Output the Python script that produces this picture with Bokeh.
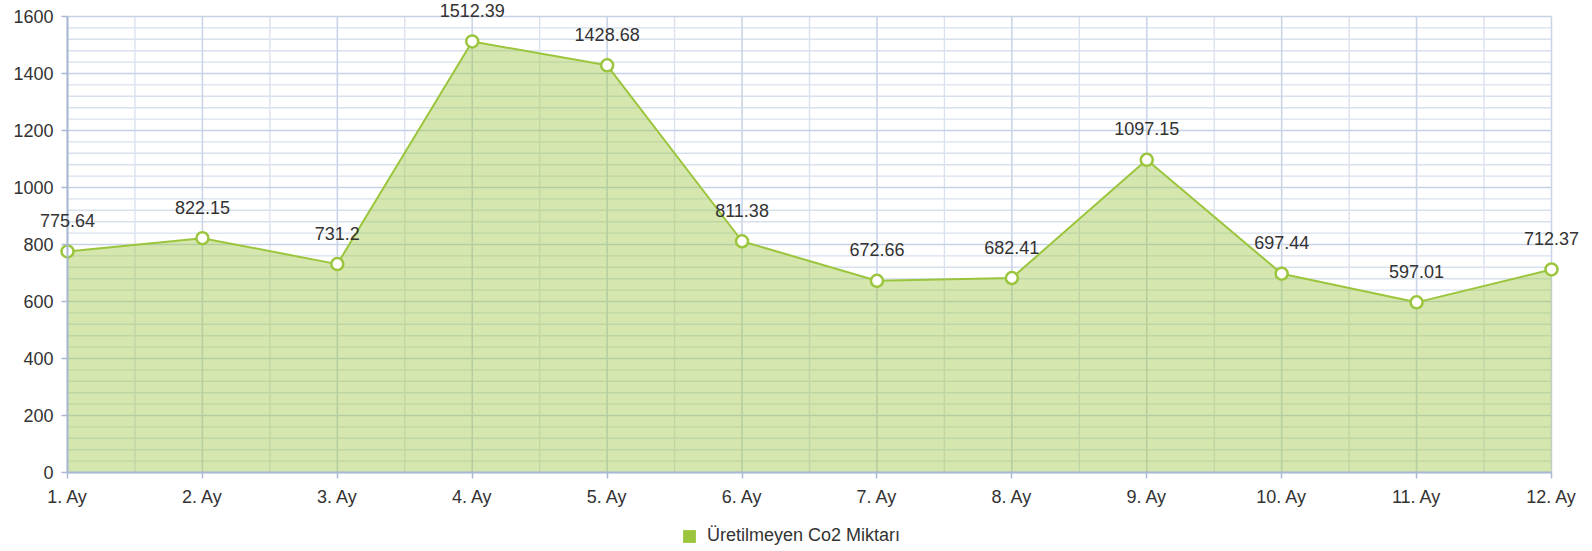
from bokeh.plotting import figure
from bokeh.models import ColumnDataSource, FixedTicker, LabelSet, Legend, LegendItem, Range1d
from bokeh.core.properties import value
from bokeh.embed import file_html
from bokeh.resources import INLINE

months = ["1. Ay", "2. Ay", "3. Ay", "4. Ay", "5. Ay", "6. Ay",
          "7. Ay", "8. Ay", "9. Ay", "10. Ay", "11. Ay", "12. Ay"]
values = [775.64, 822.15, 731.2, 1512.39, 1428.68, 811.38,
          672.66, 682.41, 1097.15, 697.44, 597.01, 712.37]
value_labels = ["775.64", "822.15", "731.2", "1512.39", "1428.68", "811.38",
                "672.66", "682.41", "1097.15", "697.44", "597.01", "712.37"]
series_name = "Üretilmeyen Co2 Miktarı"
y_ticks = [0, 200, 400, 600, 800, 1000, 1200, 1400, 1600]
Y_MAX = 1600
Y_MINOR_STEP = 40

FONT = "Liberation Sans"
TXT = "#333333"
GREEN = "#9bc53d"

# geometry (figure pixels); the frame fills the whole canvas, the axes are
# placed at fixed data locations so that no text is clipped by the frame
W, H = 1592, 551
AREA_L, AREA_R, AREA_T, AREA_B = 67, 1551, 16, 472   # visible plot area
n = len(months)
xu = (AREA_R - AREA_L) / (n - 1)
yu = (AREA_B - AREA_T) / Y_MAX
x_start = -AREA_L / xu
x_end = (n - 1) + (W - AREA_R) / xu
y_end = Y_MAX + AREA_T / yu
y_start = -(H - AREA_B) / yu

xs = list(range(n))
x_minor = [i + 0.5 for i in xs[:-1]]
y_minor = [v for v in range(0, Y_MAX + 1, Y_MINOR_STEP) if v not in y_ticks]

# label offset: ~31px above point, but keep text inside the canvas
offs = [min(31.0, (y_end - v) * yu - 10) for v in values]
src = ColumnDataSource(dict(x=xs, y=values, lab=value_labels, off=offs))

p = figure(width=W, height=H, output_backend="svg", toolbar_location=None,
           x_range=Range1d(x_start, x_end), y_range=Range1d(y_start, y_end),
           min_border_left=0, min_border_right=0, min_border_top=0,
           min_border_bottom=0)
p.outline_line_color = None
p.background_fill_color = "white"
p.xgrid.visible = False
p.ygrid.visible = False

# grid lines limited to the plot area
x0, x1 = 0, n - 1
p.segment(x0=x0, x1=x1, y0=y_minor, y1=y_minor, line_color="#d8e0ee",
          line_width=1.4, level="underlay")
p.segment(x0=x_minor, x1=x_minor, y0=0, y1=Y_MAX, line_color="#dbe2ef",
          line_width=1.4, level="underlay")
p.segment(x0=x0, x1=x1, y0=y_ticks, y1=y_ticks, line_color="#c6d1e5",
          line_width=1.6, level="underlay")
p.segment(x0=xs, x1=xs, y0=0, y1=Y_MAX, line_color="#cbd5e7",
          line_width=1.6, level="underlay")

# axes
p.xaxis.ticker = FixedTicker(ticks=xs)
p.yaxis.ticker = FixedTicker(ticks=y_ticks)
for ax in (p.xaxis, p.yaxis):
    ax.axis_line_color = "#a9b9d2"
    ax.axis_line_width = 2
    ax.major_tick_line_color = "#a9b9d2"
    ax.major_tick_line_width = 1.5
    ax.major_tick_out = 6
    ax.major_tick_in = 0
    ax.minor_tick_out = 0
    ax.minor_tick_in = 0
    ax.major_label_text_font = FONT
    ax.major_label_text_font_size = "18px"
    ax.major_label_text_color = TXT
p.xaxis.bounds = (0, n - 1)
p.yaxis.bounds = (0, Y_MAX)
p.xaxis.fixed_location = 0
p.yaxis.fixed_location = 0
p.xaxis.major_label_standoff = 8
p.yaxis.major_label_standoff = 8
p.xaxis.major_label_overrides = {i: m for i, m in enumerate(months)}

# series
p.varea(x="x", y1=0, y2="y", source=src, fill_color=GREEN, fill_alpha=0.42)
p.line(x="x", y="y", source=src, line_color=GREEN, line_width=2)
p.scatter(x="x", y="y", source=src, size=12, marker="circle",
          fill_color="white", line_color=GREEN, line_width=2.5)

labels = LabelSet(x="x", y="y", text="lab", source=src, y_offset="off",
                  text_align="center", text_baseline="middle",
                  text_font=value(FONT), text_font_size=value("18px"), text_color=TXT)
p.add_layout(labels)

# legend (swatch renderer with no visible data)
nan = float("nan")
dummy = p.quad(left=[nan], right=[nan], top=[nan], bottom=[nan],
               fill_color=GREEN, line_color=None)
legend = Legend(items=[LegendItem(label=series_name, renderers=[dummy])],
                location=(681, 5), orientation="horizontal",
                glyph_width=16, glyph_height=16, label_standoff=10,
                padding=0, margin=0, spacing=0,
                border_line_color=None, background_fill_alpha=0,
                label_text_font=FONT, label_text_font_size="18px",
                label_text_color=TXT)
p.add_layout(legend, "center")

open("out.html", "w").write(file_html(p, INLINE))
